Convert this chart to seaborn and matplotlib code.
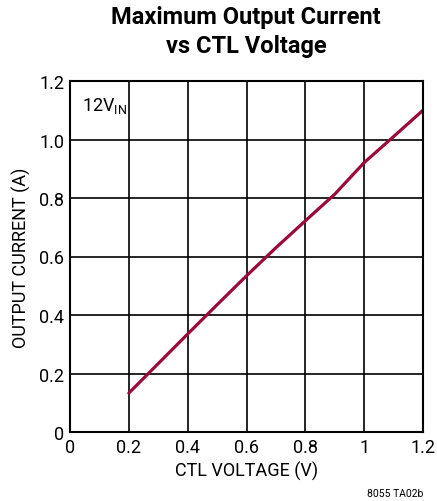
import matplotlib
matplotlib.use("Agg")
import matplotlib.pyplot as plt
import seaborn as sns
import pandas as pd
from matplotlib import font_manager

# Maximum output current vs CTL voltage at 12V input
ctl_voltage = [0.2, 0.3, 0.4, 0.5, 0.6, 0.7, 0.8, 0.9, 1.0, 1.1, 1.2]
output_current = [0.133, 0.234, 0.335, 0.435, 0.534, 0.630, 0.722, 0.813, 0.921, 1.01, 1.10]
x_ticks = [0, 0.2, 0.4, 0.6, 0.8, 1, 1.2]
x_tick_labels = ["0", "0.2", "0.4", "0.6", "0.8", "1", "1.2"]
y_ticks = [0, 0.2, 0.4, 0.6, 0.8, 1.0, 1.2]
y_tick_labels = ["0", "0.2", "0.4", "0.6", "0.8", "1.0", "1.2"]

sns.set_theme(style="white")
names = {f.name for f in font_manager.fontManager.ttflist}
narrow = "Liberation Sans Narrow" if "Liberation Sans Narrow" in names else "Roboto"
plt.rcParams["font.family"] = [narrow, "DejaVu Sans"]

df = pd.DataFrame({"ctl": ctl_voltage, "iout": output_current})

fig = plt.figure(figsize=(4.37, 5.02), dpi=100)
ax = fig.add_axes([70 / 437, 1 - 433 / 502, 353 / 437, 351 / 502])

sns.lineplot(data=df, x="ctl", y="iout", ax=ax, color="#9a0b3c", linewidth=2.3)

ax.set_xlim(0, 1.2)
ax.set_ylim(0, 1.2)
ax.set_xticks(x_ticks)
ax.set_xticklabels(x_tick_labels)
ax.set_yticks(y_ticks)
ax.set_yticklabels(y_tick_labels)
ax.tick_params(axis="both", length=0, labelsize=13, colors="black", pad=4)
ax.grid(True, color="black", linewidth=1.2)
for s in ax.spines.values():
    s.set_color("black")
    s.set_linewidth(1.5)
    s.set_visible(True)

ax.set_xlabel("CTL VOLTAGE (V)", fontsize=13, color="black", labelpad=4)
ax.set_ylabel("OUTPUT CURRENT (A)", fontsize=13, color="black", labelpad=6)

ax.text(0.035, 0.96, r"12V$_{\mathregular{IN}}$", transform=ax.transAxes,
        ha="left", va="top", fontsize=13, color="black")

fig.text(246 / 437, 1 - 32 / 502, "Maximum Output Current\nvs CTL Voltage",
         ha="center", va="center", fontsize=17, fontweight="bold",
         linespacing=1.3, color="black")
fig.text(423 / 437, 1 - 494 / 502, "8055 TA02b", ha="right", va="center",
         fontsize=7.5, color="black")

fig.savefig("out.png", dpi=100)
